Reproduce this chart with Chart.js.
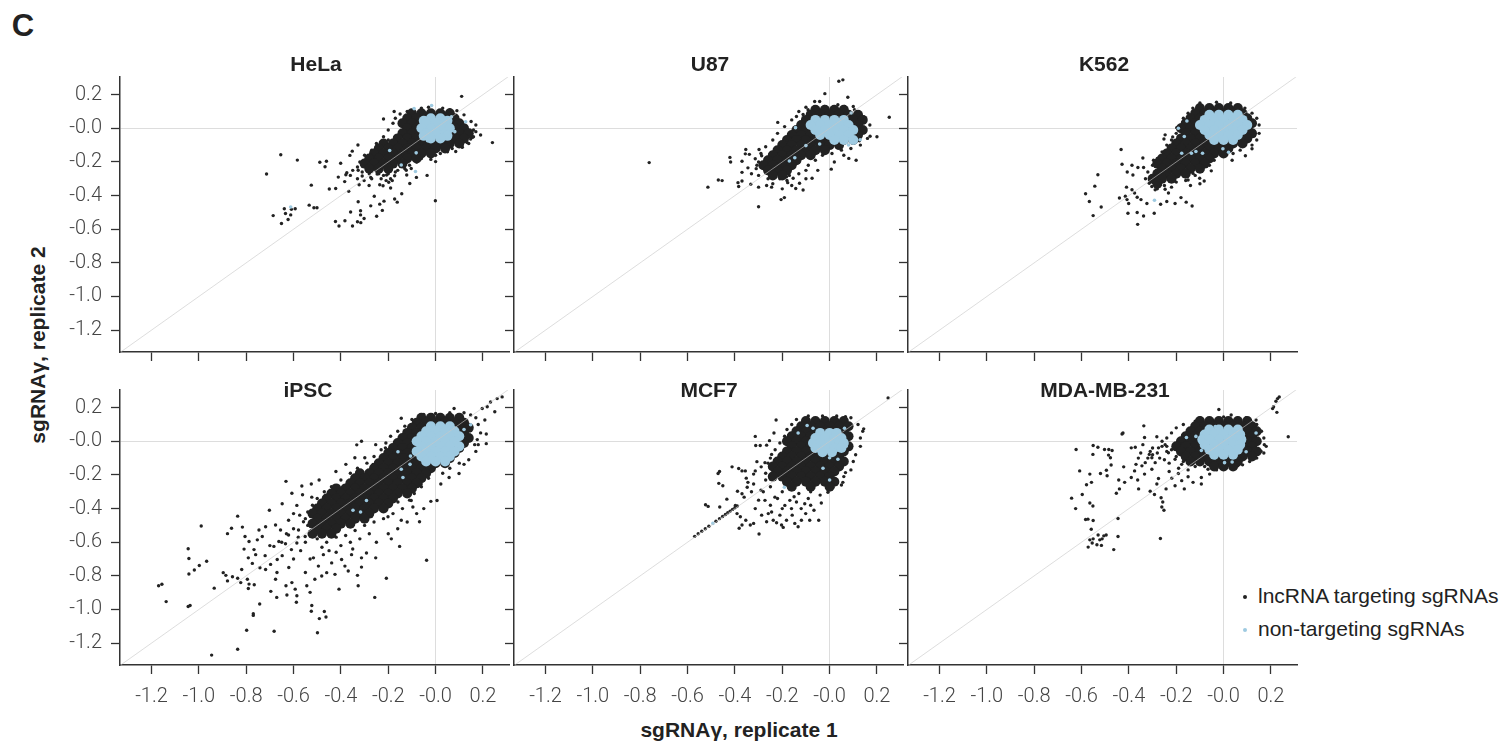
<!DOCTYPE html>
<html lang="en">
<head>
<meta charset="UTF-8">
<title>sgRNA replicate correlation</title>
<script src="https://cdn.jsdelivr.net/npm/chart.js"></script>
<style>
  body { margin: 0; background: #fff; }
  #fig { position: relative; width: 1505px; height: 741px; font-family: "Liberation Sans", Arial, sans-serif; color: #222; overflow: hidden; }
  #fig canvas { position: absolute; }
  .lbl { position: absolute; white-space: nowrap; line-height: 1; transform: translate(-50%, -50%); }
  .bold { font-weight: bold; font-size: 21px; }
  .legend { position: absolute; left: 1243px; font-size: 21px; line-height: 1; white-space: nowrap; color: #222; }
  .legend i { display: inline-block; width: 4px; height: 4px; border-radius: 50%; margin-right: 11px; vertical-align: middle; }
</style>
</head>
<body>
<div id="fig">
  <div class="lbl" style="left:23px;top:25px;font-weight:bold;font-size:31px;">C</div>
  <div class="lbl bold" style="left:739px;top:729px;">sgRNAγ, replicate 1</div>
  <div class="lbl bold" style="left:37px;top:345px;transform:translate(-50%,-50%) rotate(-90deg);">sgRNAγ, replicate 2</div>
  <div class="legend" style="top:585px;"><i style="background:#222"></i>lncRNA targeting sgRNAs</div>
  <div class="legend" style="top:618px;"><i style="background:#9ecae1"></i>non-targeting sgRNAs</div>
</div>

<script>
// shared axis ticks (same for x and y)
const tickValues = [-1.2, -1.0, -0.8, -0.6, -0.4, -0.2, 0, 0.2];
const tickLabels = ['-1.2', '-1.0', '-0.8', '-0.6', '-0.4', '-0.2', '-0.0', '0.2'];
const cellLines = ['HeLa', 'U87', 'K562', 'iPSC', 'MCF7', 'MDA-MB-231'];

// *Lnc: sparse lncRNA-targeting guides, *LncCore: the dense body of the cloud
// *Nt: outlying non-targeting guides, *NtCore: the dense non-targeting cloud

// HeLa
const helaLnc = [[0.11,0.19],[-0.175,0.10],[0.24,-0.085],[0.16,-0.01],[-0.22,0.055],[-0.654,-0.157],[-0.584,-0.189],[-0.714,-0.272],
  [-0.489,-0.202],[-0.467,-0.229],[-0.461,-0.196],[-0.401,-0.208],[-0.525,-0.338],[-0.449,-0.361],[-0.422,-0.358],[-0.411,-0.29],
  [-0.379,-0.276],[-0.375,-0.264],[-0.384,-0.317],[-0.367,-0.375],[-0.328,-0.099],[-0.362,-0.161],[-0.352,-0.136],[-0.686,-0.519],
  [-0.651,-0.566],[-0.639,-0.478],[-0.609,-0.482],[-0.593,-0.478],[-0.634,-0.507],[-0.623,-0.542],[-0.612,-0.515],[-0.534,-0.457],
  [-0.514,-0.472],[-0.501,-0.472],[-0.423,-0.554],[-0.408,-0.581],[-0.383,-0.55],[-0.359,-0.498],[-0.351,-0.581],[-0.33,-0.556],
  [-0.317,-0.49],[-0.317,-0.515],[-0.302,-0.536],[-0.316,-0.561],[-0.327,-0.437],[-0.274,-0.461],[-0.259,-0.404],[-0.236,-0.451],
  [-0.218,-0.433],[-0.249,-0.523],[-0.225,-0.488],[-0.173,-0.42],[-0.162,-0.439],[-0.143,-0.389],[-0.109,-0.328],[-0.081,-0.292],
  [-0.036,-0.28],[-0.001,-0.431],[-0.323,-0.336],[-0.31,-0.284],[-0.327,-0.249],[-0.302,-0.311],[-0.281,-0.34],[-0.274,-0.292],
  [-0.247,-0.272],[-0.236,-0.336],[-0.222,-0.342],[-0.209,-0.311],[-0.198,-0.321],[-0.19,-0.355],[-0.183,-0.311],[-0.207,-0.278],
  [-0.173,-0.282],[0.085,-0.138],[0.113,-0.113],[0.133,-0.084],[0.148,-0.064],[0.155,-0.054],[-0.02,-0.185],[0.0,-0.198],
  [-0.122,-0.278],[-0.103,-0.239],[-0.124,-0.249],[-0.15,-0.187],[-0.134,-0.21],[-0.117,-0.187],
  [-0.12,0.1],[-0.15,0.085],[0.09,0.105],[0.12,0.08],[0.15,0.04],[0.17,-0.02],[0.16,-0.05],[0.14,-0.09],[0.11,-0.11],[0.07,-0.12],
  [0.05,-0.14],[0.02,-0.15],[-0.02,-0.17],[-0.06,-0.18],[-0.08,-0.2],[-0.11,-0.22],[-0.13,-0.24],[-0.17,-0.26],[-0.2,-0.27],
  [-0.24,-0.27],[-0.28,-0.27],[-0.31,-0.26],[-0.33,-0.23],[-0.32,-0.2],[-0.3,-0.16],[-0.27,-0.13],[-0.25,-0.09],[-0.22,-0.05],
  [-0.2,-0.01],[-0.18,0.03],[-0.17,0.06],[-0.06,0.12],[-0.03,0.125],[0.03,0.12],[0.06,0.11],[-0.2,-0.07],[-0.26,-0.19],
  [-0.22,-0.28],[-0.16,-0.25],[-0.12,-0.2],[0.0,-0.16],[0.1,-0.1],[0.19,-0.04],[0.17,0.02],[-0.23,-0.3],[-0.19,-0.3],
  [-0.27,-0.3],[-0.35,-0.25],[-0.36,-0.28],[-0.33,-0.3]];
const helaLncCore = [[-0.10,0.09],[-0.06,0.09],[-0.02,0.09],[0.02,0.09],[0.06,0.09],
  [-0.12,0.06],[-0.08,0.06],[-0.04,0.06],[0,0.06],[0.04,0.06],[0.08,0.06],
  [-0.14,0.03],[-0.10,0.03],[-0.06,0.03],[-0.02,0.03],[0.02,0.03],[0.06,0.03],[0.10,0.03],
  [-0.12,0],[-0.08,0],[-0.04,0],[0,0],[0.04,0],[0.08,0],[0.12,0],
  [-0.14,-0.03],[-0.10,-0.03],[-0.06,-0.03],[-0.02,-0.03],[0.02,-0.03],[0.06,-0.03],[0.10,-0.03],[0.14,-0.03],
  [-0.16,-0.06],[-0.12,-0.06],[-0.08,-0.06],[-0.04,-0.06],[0,-0.06],[0.04,-0.06],[0.08,-0.06],[0.12,-0.06],
  [-0.22,-0.09],[-0.18,-0.09],[-0.14,-0.09],[-0.10,-0.09],[-0.06,-0.09],[-0.02,-0.09],[0.02,-0.09],[0.06,-0.09],[0.10,-0.09],
  [-0.24,-0.12],[-0.20,-0.12],[-0.16,-0.12],[-0.12,-0.12],[-0.08,-0.12],[-0.04,-0.12],[0,-0.12],[0.04,-0.12],
  [-0.26,-0.15],[-0.22,-0.15],[-0.18,-0.15],[-0.14,-0.15],[-0.10,-0.15],[-0.06,-0.15],[-0.02,-0.15],
  [-0.28,-0.18],[-0.24,-0.18],[-0.20,-0.18],[-0.16,-0.18],[-0.12,-0.18],[-0.08,-0.18],
  [-0.30,-0.21],[-0.26,-0.21],[-0.22,-0.21],[-0.18,-0.21],[-0.14,-0.21],
  [-0.28,-0.24],[-0.24,-0.24],[-0.20,-0.24]];
const helaNt = [[-0.091,0.117],[-0.017,0.136],[0.127,0.039],[0.067,0.068],[0.081,-0.02],[-0.082,-0.146],[-0.145,-0.218],
  [-0.085,-0.257],[-0.194,-0.132],[-0.034,-0.074],[-0.612,-0.468]];
const helaNtCore = [[-0.02,0.06],[0.02,0.06],[-0.05,0.045],[0.05,0.045],[-0.04,0.03],[0,0.03],[0.04,0.03],
  [-0.06,0],[-0.02,0],[0.02,0],[0.06,0],[-0.04,-0.03],[0,-0.03],[0.04,-0.03],[-0.05,-0.045],[0.05,-0.045],
  [-0.02,-0.06],[0.02,-0.06]];

// U87
const u87Lnc = [[0.252,0.066],[0.039,0.28],[0.056,0.288],[-0.02,0.206],[0.077,0.185],[-0.063,0.159],[-0.042,0.159],[-0.219,0.035],
  [-0.762,-0.204],[-0.514,-0.35],[-0.47,-0.307],[-0.454,-0.311],[-0.421,-0.173],[-0.418,-0.2],[-0.387,-0.323],[-0.37,-0.313],
  [-0.384,-0.346],[-0.354,-0.126],[-0.356,-0.152],[-0.339,-0.155],[-0.37,-0.196],[-0.345,-0.235],[-0.333,-0.332],[-0.3,-0.35],
  [-0.3,-0.466],[-0.37,-0.262],[-0.205,-0.424],[-0.191,-0.412],[-0.143,-0.358],[-0.112,-0.367],[-0.127,-0.327],[-0.074,-0.297],
  [0.007,-0.243],[0.081,-0.179],[0.112,-0.19],[0.171,-0.047],[0.147,-0.025],[0.144,0.068],[0.126,-0.074],[-0.266,-0.34],
  [-0.245,-0.35],[-0.177,-0.323],[-0.154,-0.297],[-0.182,-0.288],[-0.298,-0.126],[-0.314,-0.181],[-0.307,-0.22],[-0.287,-0.163],
  [-0.112,0.082],[-0.091,0.111],[-0.021,0.13],[0.035,0.14],[0.063,0.13],[0.105,0.111],[0.126,0.091],
  [-0.1,0.125],[0.1,0.13],[-0.14,0.07],[0.15,0.06],[0.17,0.02],[0.16,-0.06],[0.13,-0.1],[0.09,-0.12],[0.05,-0.13],[0.01,-0.15],
  [-0.03,-0.16],[-0.06,-0.19],[-0.09,-0.22],[-0.1,-0.25],[-0.13,-0.27],[-0.17,-0.28],[-0.21,-0.3],[-0.26,-0.3],[-0.3,-0.28],
  [-0.31,-0.24],[-0.3,-0.2],[-0.29,-0.15],[-0.27,-0.11],[-0.24,-0.07],[-0.22,-0.03],[-0.19,0.01],[-0.16,0.05],[-0.13,0.1],
  [-0.33,-0.27],[-0.24,-0.33],[-0.18,-0.31],[-0.1,-0.3],[-0.05,-0.25],[0.02,-0.2],[0.06,-0.16],[0.2,-0.05],[-0.2,-0.36],[-0.16,-0.34]];
const u87LncCore = [[-0.06,0.11],[-0.02,0.11],[0.02,0.11],[0.06,0.11],
  [-0.08,0.08],[-0.04,0.08],[0,0.08],[0.04,0.08],[0.08,0.08],[0.12,0.08],
  [-0.10,0.05],[-0.06,0.05],[-0.02,0.05],[0.02,0.05],[0.06,0.05],[0.10,0.05],[0.14,0.05],
  [-0.12,0.02],[-0.08,0.02],[-0.04,0.02],[0,0.02],[0.04,0.02],[0.08,0.02],[0.12,0.02],
  [-0.14,-0.01],[-0.10,-0.01],[-0.06,-0.01],[-0.02,-0.01],[0.02,-0.01],[0.06,-0.01],[0.10,-0.01],[0.14,-0.01],
  [-0.16,-0.04],[-0.12,-0.04],[-0.08,-0.04],[-0.04,-0.04],[0,-0.04],[0.04,-0.04],[0.08,-0.04],[0.12,-0.04],
  [-0.18,-0.07],[-0.14,-0.07],[-0.10,-0.07],[-0.06,-0.07],[-0.02,-0.07],[0.02,-0.07],[0.06,-0.07],[0.10,-0.07],
  [-0.20,-0.10],[-0.16,-0.10],[-0.12,-0.10],[-0.08,-0.10],[-0.04,-0.10],[0,-0.10],[0.04,-0.10],
  [-0.22,-0.13],[-0.18,-0.13],[-0.14,-0.13],[-0.10,-0.13],[-0.06,-0.13],[-0.02,-0.13],
  [-0.24,-0.16],[-0.20,-0.16],[-0.16,-0.16],[-0.12,-0.16],[-0.08,-0.16],
  [-0.26,-0.19],[-0.22,-0.19],[-0.18,-0.19],[-0.14,-0.19],
  [-0.28,-0.22],[-0.24,-0.22],[-0.20,-0.22],[-0.16,-0.22],
  [-0.26,-0.25],[-0.22,-0.25],[-0.18,-0.25],[-0.24,-0.28],[-0.20,-0.28]];
const u87Nt = [[-0.1,-0.103],[-0.147,-0.175],[-0.17,-0.194],[-0.042,-0.093],[0.129,-0.068],[0.08,-0.099],[0.091,0.091],[-0.144,0.004]];
const u87NtCore = [[-0.06,0.05],[-0.02,0.05],[0.02,0.05],[0.06,0.05],
  [-0.08,0.02],[-0.04,0.02],[0,0.02],[0.04,0.02],[0.08,0.02],
  [-0.06,-0.01],[-0.02,-0.01],[0.02,-0.01],[0.06,-0.01],[0.10,-0.01],
  [-0.04,-0.04],[0,-0.04],[0.04,-0.04],[0.08,-0.04],[0.02,-0.07],[0.06,-0.07],[0.10,-0.07]];

// K562
const k562Lnc = [[-0.433,-0.126],[-0.531,-0.276],[-0.544,-0.344],[-0.583,-0.389],[-0.567,-0.435],[-0.551,-0.519],[-0.517,-0.468],
  [-0.429,-0.214],[-0.407,-0.26],[-0.387,-0.22],[-0.362,-0.233],[-0.383,-0.278],[-0.338,-0.233],[-0.341,-0.177],[-0.296,-0.19],
  [-0.282,-0.249],[-0.41,-0.35],[-0.387,-0.365],[-0.376,-0.385],[-0.408,-0.424],[-0.401,-0.447],[-0.44,-0.414],[-0.415,-0.404],
  [-0.365,-0.41],[-0.349,-0.424],[-0.324,-0.447],[-0.404,-0.505],[-0.365,-0.501],[-0.363,-0.571],[-0.338,-0.521],[-0.293,-0.505],
  [-0.266,-0.452],[-0.24,-0.435],[-0.205,-0.447],[-0.18,-0.412],[-0.158,-0.439],[-0.133,-0.462],[-0.247,-0.039],[-0.252,-0.064],
  [-0.215,-0.051],[-0.198,0.004],[0.12,-0.122],[0.092,-0.163],[0.036,-0.19],[0.13,-0.045],[0.116,0.004],[-0.082,-0.313],
  [-0.052,-0.253],[-0.101,-0.297],[-0.129,-0.268],[-0.15,-0.307],[-0.314,-0.327],[-0.303,-0.346],[-0.289,-0.365],[-0.247,-0.362],
  [-0.233,-0.385],
  [-0.1,0.15],[-0.03,0.155],[0.03,0.15],[0.09,0.12],[0.12,0.09],[0.14,0.06],[0.15,0.02],[0.15,-0.03],[0.14,-0.07],[0.12,-0.1],
  [0.07,-0.13],[0.04,-0.15],[-0.01,-0.16],[-0.04,-0.19],[-0.06,-0.22],[-0.1,-0.25],[-0.12,-0.28],[-0.16,-0.31],[-0.2,-0.32],
  [-0.25,-0.34],[-0.3,-0.32],[-0.33,-0.3],[-0.32,-0.26],[-0.3,-0.22],[-0.28,-0.18],[-0.26,-0.14],[-0.24,-0.1],[-0.22,-0.07],
  [-0.2,-0.03],[-0.18,0.02],[-0.17,0.06],[-0.15,0.09],[-0.13,0.12],[-0.28,-0.36],[-0.22,-0.35],[-0.14,-0.34],[-0.1,-0.33],
  [-0.21,-0.11],[-0.23,-0.13]];
const k562LncCore = [[-0.10,0.12],[-0.06,0.12],[-0.02,0.12],[0.02,0.12],[0.06,0.12],
  [-0.12,0.09],[-0.08,0.09],[-0.04,0.09],[0,0.09],[0.04,0.09],[0.08,0.09],
  [-0.14,0.06],[-0.10,0.06],[-0.06,0.06],[-0.02,0.06],[0.02,0.06],[0.06,0.06],[0.10,0.06],
  [-0.16,0.03],[-0.12,0.03],[-0.08,0.03],[-0.04,0.03],[0,0.03],[0.04,0.03],[0.08,0.03],[0.12,0.03],
  [-0.18,0],[-0.14,0],[-0.10,0],[-0.06,0],[-0.02,0],[0.02,0],[0.06,0],[0.10,0],
  [-0.16,-0.03],[-0.12,-0.03],[-0.08,-0.03],[-0.04,-0.03],[0,-0.03],[0.04,-0.03],[0.08,-0.03],[0.12,-0.03],
  [-0.18,-0.06],[-0.14,-0.06],[-0.10,-0.06],[-0.06,-0.06],[-0.02,-0.06],[0.02,-0.06],[0.06,-0.06],[0.10,-0.06],
  [-0.20,-0.09],[-0.16,-0.09],[-0.12,-0.09],[-0.08,-0.09],[-0.04,-0.09],[0,-0.09],[0.04,-0.09],[0.08,-0.09],
  [-0.22,-0.12],[-0.18,-0.12],[-0.14,-0.12],[-0.10,-0.12],[-0.06,-0.12],[-0.02,-0.12],[0.02,-0.12],
  [-0.24,-0.15],[-0.20,-0.15],[-0.16,-0.15],[-0.12,-0.15],[-0.08,-0.15],[-0.04,-0.15],[0,-0.15],
  [-0.26,-0.18],[-0.22,-0.18],[-0.18,-0.18],[-0.14,-0.18],[-0.10,-0.18],[-0.06,-0.18],
  [-0.28,-0.21],[-0.24,-0.21],[-0.20,-0.21],[-0.16,-0.21],[-0.12,-0.21],[-0.08,-0.21],
  [-0.26,-0.24],[-0.22,-0.24],[-0.18,-0.24],[-0.14,-0.24],[-0.10,-0.24],
  [-0.28,-0.27],[-0.24,-0.27],[-0.20,-0.27],[-0.16,-0.27],[-0.30,-0.30],[-0.26,-0.30],[-0.22,-0.30],[-0.28,-0.33]];
const k562Nt = [[-0.155,0.043],[-0.191,0.0],[-0.166,-0.049],[-0.177,-0.148],[-0.136,-0.148],[-0.117,-0.138],[-0.089,-0.148],
  [-0.003,-0.122],[0.021,-0.142],[-0.292,-0.428]];
const k562NtCore = [[-0.06,0.08],[-0.02,0.08],[0.02,0.08],[0.06,0.08],
  [-0.08,0.05],[-0.04,0.05],[0,0.05],[0.04,0.05],[0.08,0.05],
  [-0.10,0.02],[-0.06,0.02],[-0.02,0.02],[0.02,0.02],[0.06,0.02],[0.10,0.02],
  [-0.08,-0.01],[-0.04,-0.01],[0,-0.01],[0.04,-0.01],[0.08,-0.01],
  [-0.06,-0.04],[-0.02,-0.04],[0.02,-0.04],[0.06,-0.04],[-0.04,-0.07],[0,-0.07],[0.04,-0.07]];

// iPSC
const ipscLnc = [[-1.17,-0.859],[-1.156,-0.85],[-1.138,-0.953],[-1.045,-0.639],[-1.042,-0.697],[-1.042,-0.789],[-1.019,-0.765],
  [-0.998,-0.738],[-0.967,-0.713],[-0.99,-0.504],[-1.045,-0.982],[-1.037,-0.976],[-0.935,-0.873],[-0.946,-1.271],[-0.836,-0.445],
  [-0.862,-0.517],[-0.879,-0.549],[-0.816,-0.51],[-0.897,-0.781],[-0.886,-0.797],[-0.879,-0.83],[-0.858,-0.805],[-0.836,-0.814],
  [-0.823,-0.84],[-0.819,-0.762],[-0.795,-0.82],[-0.788,-0.849],[-0.791,-0.875],[-0.766,-0.853],[-0.77,-1.025],[-0.77,-1.035],
  [-0.743,-0.967],[-0.798,-1.123],[-0.836,-1.236],[-0.682,-1.129],[-0.696,-0.892],[-0.671,-0.928],[-0.628,-0.914],
  [-0.805,-0.566],[-0.788,-0.596],[-0.809,-0.641],[-0.791,-0.693],[-0.76,-0.674],[-0.753,-0.586],[-0.732,-0.566],[-0.718,-0.508],
  [-0.746,-0.527],[-0.767,-0.644],[-0.742,-0.752],[-0.774,-0.726],[-0.718,-0.762],[-0.697,-0.732],[-0.669,-0.703],[-0.648,-0.68],
  [-0.683,-0.625],[-0.662,-0.596],[-0.634,-0.609],[-0.609,-0.644],[-0.586,-0.605],[-0.621,-0.557],[-0.655,-0.527],[-0.676,-0.498],
  [-0.621,-0.469],[-0.6,-0.43],[-0.574,-0.439],[-0.558,-0.478],[-0.579,-0.527],[-0.551,-0.566],
  [-0.632,-0.238],[-0.607,-0.309],[-0.565,-0.266],[-0.562,-0.318],[-0.525,-0.254],[-0.492,-0.23],[-0.421,-0.18],[-0.379,-0.137],
  [-0.333,-0.021],[-0.313,0.0],[-0.253,-0.02],[-0.212,-0.039],[-0.145,0.137],[-0.299,-0.098],[-0.341,-0.098],[-0.648,-0.371],
  [-0.702,-0.41],[-0.586,-0.381],[-0.523,-0.332],
  [-0.676,-0.82],[-0.632,-0.859],[-0.607,-0.84],[-0.593,-0.879],[-0.586,-0.918],[-0.588,-0.957],[-0.544,-0.859],[-0.53,-0.898],
  [-0.523,-0.976],[-0.525,-1.01],[-0.491,-1.054],[-0.47,-1.012],[-0.463,-1.045],[-0.499,-1.138],[-0.481,-0.801],[-0.46,-0.781],
  [-0.439,-0.723],[-0.408,-0.879],[-0.369,-0.771],[-0.33,-0.797],[-0.327,-0.859],[-0.313,-0.748],[-0.292,-0.664],[-0.257,-0.928],
  [-0.208,-0.814],[-0.187,-0.58],[-0.152,-0.625],[-0.253,-0.693],[-0.313,-0.693],[-0.355,-0.674],[-0.383,-0.742],[-0.425,-0.791],
  [-0.495,-0.742],[-0.516,-0.693],[-0.474,-0.674],[-0.397,-0.703],
  [-0.038,-0.707],[-0.02,-0.357],[0.006,-0.352],[-0.068,-0.478],[-0.096,-0.391],[-0.145,-0.469],[-0.117,-0.293],[-0.061,-0.254],
  [0.022,-0.254],[0.057,-0.215],[0.099,-0.191],[0.12,-0.137],[0.176,0.01],[0.214,0.043],[0.214,-0.014],[0.165,-0.02],[0.208,0.127],
  [0.25,0.176],[0.218,0.205],[0.232,0.234],[0.26,0.254],[0.281,0.264],[0.197,0.195],[0.148,0.156],[0.078,0.195],[0.022,0.146],
  [-0.034,0.137],[-0.089,0.098],[-0.215,-0.078],[-0.264,-0.137],[-0.187,-0.215],[-0.166,-0.254],[-0.103,-0.352],[-0.159,-0.361],
  [-0.201,-0.449],
  [-0.54,-0.5],[-0.5,-0.58],[-0.46,-0.6],[-0.42,-0.57],[-0.38,-0.56],[-0.34,-0.53],[-0.3,-0.5],[-0.26,-0.48],[-0.22,-0.46],
  [-0.18,-0.43],[-0.14,-0.4],[-0.11,-0.35],[-0.09,-0.31],[-0.06,-0.27],[-0.03,-0.22],[0.03,-0.19],[0.06,-0.16],[0.1,-0.13],
  [0.14,-0.11],[0.17,-0.06],[0.18,-0.02],[0.19,0.05],[0.18,0.1],[0.17,0.14],[0.12,0.17],[0.06,0.17],[0.0,0.165],[-0.05,0.16],
  [-0.1,0.13],[-0.13,0.09],[-0.16,0.06],[-0.19,0.03],[-0.21,-0.01],[-0.23,-0.05],[-0.26,-0.09],[-0.29,-0.13],[-0.33,-0.16],
  [-0.36,-0.19],[-0.4,-0.23],[-0.44,-0.27],[-0.47,-0.3],[-0.5,-0.34],[-0.52,-0.38],[-0.54,-0.42],[-0.55,-0.46],[-0.4,-0.62],
  [-0.36,-0.6],[-0.32,-0.58],[-0.28,-0.55],[-0.45,-0.65],[-0.42,-0.66],[-0.48,-0.63],[-0.35,-0.64],[-0.55,-0.6],[-0.58,-0.57],
  [-0.6,-0.52],[-0.63,-0.55],[-0.65,-0.6],[-0.57,-0.65],[-0.53,-0.7],[-0.6,-0.7],[-0.62,-0.75],[-0.55,-0.78],[-0.51,-0.82],
  [-0.67,-0.78],[-0.7,-0.62],[-0.72,-0.68],[-0.25,-0.6],[-0.2,-0.55],[-0.16,-0.52],[-0.12,-0.48],[-0.08,-0.43],[-0.05,-0.4]];
const ipscLncCore = [[-0.06,0.14],[-0.02,0.14],[0.02,0.14],[0.06,0.14],[0.10,0.14],
  [-0.08,0.11],[-0.04,0.11],[0,0.11],[0.04,0.11],[0.08,0.11],[0.12,0.11],
  [-0.10,0.08],[-0.06,0.08],[-0.02,0.08],[0.02,0.08],[0.06,0.08],[0.10,0.08],[0.14,0.08],
  [-0.12,0.05],[-0.08,0.05],[-0.04,0.05],[0,0.05],[0.04,0.05],[0.08,0.05],[0.12,0.05],
  [-0.14,0.02],[-0.10,0.02],[-0.06,0.02],[-0.02,0.02],[0.02,0.02],[0.06,0.02],[0.10,0.02],[0.14,0.02],
  [-0.16,-0.01],[-0.12,-0.01],[-0.08,-0.01],[-0.04,-0.01],[0,-0.01],[0.04,-0.01],[0.08,-0.01],[0.12,-0.01],
  [-0.18,-0.04],[-0.14,-0.04],[-0.10,-0.04],[-0.06,-0.04],[-0.02,-0.04],[0.02,-0.04],[0.06,-0.04],[0.10,-0.04],
  [-0.20,-0.07],[-0.16,-0.07],[-0.12,-0.07],[-0.08,-0.07],[-0.04,-0.07],[0,-0.07],[0.04,-0.07],[0.08,-0.07],
  [-0.22,-0.10],[-0.18,-0.10],[-0.14,-0.10],[-0.10,-0.10],[-0.06,-0.10],[-0.02,-0.10],[0.02,-0.10],[0.06,-0.10],
  [-0.24,-0.13],[-0.20,-0.13],[-0.16,-0.13],[-0.12,-0.13],[-0.08,-0.13],[-0.04,-0.13],[0,-0.13],[0.04,-0.13],
  [-0.26,-0.16],[-0.22,-0.16],[-0.18,-0.16],[-0.14,-0.16],[-0.10,-0.16],[-0.06,-0.16],[-0.02,-0.16],
  [-0.32,-0.19],[-0.28,-0.19],[-0.24,-0.19],[-0.20,-0.19],[-0.16,-0.19],[-0.12,-0.19],[-0.08,-0.19],[-0.04,-0.19],
  [-0.34,-0.22],[-0.30,-0.22],[-0.26,-0.22],[-0.22,-0.22],[-0.18,-0.22],[-0.14,-0.22],[-0.10,-0.22],[-0.06,-0.22],
  [-0.36,-0.25],[-0.32,-0.25],[-0.28,-0.25],[-0.24,-0.25],[-0.20,-0.25],[-0.16,-0.25],[-0.12,-0.25],[-0.08,-0.25],
  [-0.42,-0.28],[-0.38,-0.28],[-0.34,-0.28],[-0.30,-0.28],[-0.26,-0.28],[-0.22,-0.28],[-0.18,-0.28],[-0.14,-0.28],[-0.10,-0.28],
  [-0.44,-0.31],[-0.40,-0.31],[-0.36,-0.31],[-0.32,-0.31],[-0.28,-0.31],[-0.24,-0.31],[-0.20,-0.31],[-0.16,-0.31],[-0.12,-0.31],
  [-0.46,-0.34],[-0.42,-0.34],[-0.38,-0.34],[-0.34,-0.34],[-0.30,-0.34],[-0.26,-0.34],[-0.22,-0.34],[-0.18,-0.34],
  [-0.48,-0.37],[-0.44,-0.37],[-0.40,-0.37],[-0.36,-0.37],[-0.32,-0.37],[-0.28,-0.37],[-0.24,-0.37],[-0.20,-0.37],
  [-0.50,-0.40],[-0.46,-0.40],[-0.42,-0.40],[-0.38,-0.40],[-0.34,-0.40],[-0.30,-0.40],[-0.26,-0.40],[-0.22,-0.40],
  [-0.52,-0.43],[-0.48,-0.43],[-0.44,-0.43],[-0.40,-0.43],[-0.36,-0.43],[-0.32,-0.43],[-0.28,-0.43],
  [-0.50,-0.46],[-0.46,-0.46],[-0.42,-0.46],[-0.38,-0.46],[-0.34,-0.46],[-0.30,-0.46],
  [-0.52,-0.49],[-0.48,-0.49],[-0.44,-0.49],[-0.40,-0.49],[-0.36,-0.49],
  [-0.50,-0.52],[-0.46,-0.52],[-0.42,-0.52],[-0.52,-0.55],[-0.48,-0.55],[-0.44,-0.55]];
const ipscNt = [[-0.145,-0.166],[-0.138,-0.215],[-0.108,-0.137],[-0.106,-0.088],[-0.292,-0.352],[-0.349,-0.41],[-0.317,-0.42],
  [-0.159,-0.062],[0.029,-0.084],[0.099,-0.02],[0.148,0.098],[0.12,0.07]];
const ipscNtCore = [[-0.02,0.09],[0.02,0.09],[0.06,0.09],
  [-0.04,0.06],[0,0.06],[0.04,0.06],[0.08,0.06],
  [-0.06,0.03],[-0.02,0.03],[0.02,0.03],[0.06,0.03],[0.10,0.03],
  [-0.08,0],[-0.04,0],[0,0],[0.04,0],[0.08,0],
  [-0.06,-0.03],[-0.02,-0.03],[0.02,-0.03],[0.06,-0.03],[0.10,-0.03],
  [-0.08,-0.06],[-0.04,-0.06],[0,-0.06],[0.04,-0.06],[0.08,-0.06],
  [-0.06,-0.09],[-0.02,-0.09],[0.02,-0.09],[0.06,-0.09],[-0.04,-0.12],[0,-0.12],[0.04,-0.12]];

// MCF7
const mcf7Lnc = [[0.247,0.258],[-0.226,0.127],[0.067,0.146],[0.144,0.074],[-0.314,0.029],[-0.312,-0.025],[-0.293,-0.025],
  [-0.266,-0.023],[-0.254,0.004],[-0.235,0.049],[-0.245,-0.078],[-0.273,-0.127],[-0.307,-0.121],[-0.289,-0.152],[-0.314,-0.176],
  [-0.24,-0.176],[-0.231,-0.205],[-0.465,-0.18],[-0.471,-0.191],[-0.468,-0.25],[-0.451,-0.264],[-0.412,-0.152],[-0.384,-0.162],
  [-0.37,-0.176],[-0.356,-0.176],[-0.352,-0.219],[-0.345,-0.244],[-0.321,-0.195],[-0.321,-0.254],[-0.348,-0.273],[-0.37,-0.312],
  [-0.389,-0.297],[-0.361,-0.332],[-0.434,-0.344],[-0.464,-0.391],[-0.524,-0.377],[-0.513,-0.387],
  [-0.57,-0.565],[-0.555,-0.55],[-0.54,-0.535],[-0.525,-0.52],[-0.51,-0.505],[-0.48,-0.475],[-0.465,-0.46],[-0.452,-0.447],
  [-0.44,-0.435],[-0.43,-0.425],[-0.42,-0.415],[-0.41,-0.405],[-0.4,-0.395],[-0.39,-0.385],
  [-0.398,-0.381],[-0.391,-0.43],[-0.377,-0.449],[-0.37,-0.498],[-0.382,-0.517],[-0.354,-0.469],[-0.335,-0.498],[-0.321,-0.488],
  [-0.314,-0.4],[-0.298,-0.551],[-0.273,-0.351],[-0.259,-0.43],[-0.245,-0.42],[-0.238,-0.469],[-0.224,-0.484],[-0.203,-0.498],
  [-0.196,-0.512],[-0.182,-0.469],[-0.161,-0.4],[-0.158,-0.439],[-0.147,-0.488],[-0.133,-0.508],[-0.119,-0.469],[-0.101,-0.43],
  [-0.084,-0.469],[-0.066,-0.41],[-0.046,-0.469],[-0.035,-0.367],[-0.007,-0.303],[0.014,-0.273],[0.056,-0.244],[0.067,-0.186],
  [-0.231,-0.332],[-0.189,-0.381],[-0.14,-0.361],[-0.105,-0.371],[-0.287,-0.439],[-0.266,-0.478],[-0.21,-0.439],[-0.168,-0.351],
  [-0.14,0.13],[-0.09,0.15],[-0.03,0.15],[0.03,0.15],[0.09,0.14],[0.12,0.1],[0.14,0.06],[0.13,0.02],[0.13,-0.03],[0.11,-0.08],
  [0.1,-0.12],[0.09,-0.17],[0.06,-0.21],[0.05,-0.26],[0.0,-0.28],[-0.08,-0.3],[-0.13,-0.31],[-0.2,-0.3],[-0.25,-0.27],
  [-0.27,-0.23],[-0.27,-0.19],[-0.26,-0.13],[-0.25,-0.1],[-0.23,-0.05],[-0.21,-0.01],[-0.19,0.03],[-0.18,0.07],[-0.16,0.1],
  [-0.28,-0.3],[-0.22,-0.34],[-0.15,-0.33],[-0.09,-0.34],[-0.04,-0.32],[-0.12,-0.4],[-0.08,-0.38],[-0.2,-0.4],[-0.25,-0.38],
  [-0.3,-0.35],[-0.33,-0.3],[-0.29,-0.29]];
const mcf7LncCore = [[-0.10,0.12],[-0.06,0.12],[-0.02,0.12],[0.02,0.12],[0.06,0.12],
  [-0.12,0.09],[-0.08,0.09],[-0.04,0.09],[0,0.09],[0.04,0.09],[0.08,0.09],
  [-0.14,0.06],[-0.10,0.06],[-0.06,0.06],[-0.02,0.06],[0.02,0.06],[0.06,0.06],
  [-0.16,0.03],[-0.12,0.03],[-0.08,0.03],[-0.04,0.03],[0,0.03],[0.04,0.03],[0.08,0.03],
  [-0.18,0],[-0.14,0],[-0.10,0],[-0.06,0],[-0.02,0],[0.02,0],[0.06,0],
  [-0.16,-0.03],[-0.12,-0.03],[-0.08,-0.03],[-0.04,-0.03],[0,-0.03],[0.04,-0.03],[0.08,-0.03],
  [-0.18,-0.06],[-0.14,-0.06],[-0.10,-0.06],[-0.06,-0.06],[-0.02,-0.06],[0.02,-0.06],[0.06,-0.06],
  [-0.20,-0.09],[-0.16,-0.09],[-0.12,-0.09],[-0.08,-0.09],[-0.04,-0.09],[0,-0.09],[0.04,-0.09],
  [-0.22,-0.12],[-0.18,-0.12],[-0.14,-0.12],[-0.10,-0.12],[-0.06,-0.12],[-0.02,-0.12],[0.02,-0.12],[0.06,-0.12],
  [-0.24,-0.15],[-0.20,-0.15],[-0.16,-0.15],[-0.12,-0.15],[-0.08,-0.15],[-0.04,-0.15],[0,-0.15],[0.04,-0.15],
  [-0.22,-0.18],[-0.18,-0.18],[-0.14,-0.18],[-0.10,-0.18],[-0.06,-0.18],[-0.02,-0.18],[0.02,-0.18],
  [-0.24,-0.21],[-0.20,-0.21],[-0.16,-0.21],[-0.12,-0.21],[-0.08,-0.21],[-0.04,-0.21],[0,-0.21],
  [-0.18,-0.24],[-0.14,-0.24],[-0.10,-0.24],[-0.06,-0.24],[-0.02,-0.24],[0.02,-0.24],
  [-0.16,-0.27],[-0.08,-0.27],[0,-0.27]];
const mcf7Nt = [[-0.095,0.094],[-0.07,0.078],[0.063,0.078],[0.07,-0.029],[0.0,-0.098],[-0.028,-0.16],[0.0,-0.23],[-0.191,-0.273],
  [0.035,-0.107],[-0.133,0.049],[-0.493,-0.488]];
const mcf7NtCore = [[-0.04,0.05],[0,0.05],[0.03,0.05],
  [-0.06,0.02],[-0.02,0.02],[0.02,0.02],[0.05,0.02],
  [-0.07,-0.01],[-0.04,-0.01],[0,-0.01],[0.04,-0.01],[0.06,-0.01],
  [-0.06,-0.04],[-0.02,-0.04],[0.02,-0.04],[0.05,-0.04],[-0.03,-0.065],[0.01,-0.065]];

// MDA-MB-231
const mdaLnc = [[0.273,0.027],[0.235,0.264],[0.228,0.254],[0.221,0.238],[0.211,0.205],[0.207,0.195],[0.225,0.172],[-0.02,0.189],
  [-0.048,0.117],[0.095,0.141],[0.137,0.127],[-0.337,0.092],[-0.334,0.023],[-0.425,0.049],[-0.429,0.043],[-0.282,0.027],
  [-0.341,-0.02],[-0.373,-0.035],[-0.39,-0.039],[-0.551,-0.025],[-0.552,-0.078],[-0.531,-0.035],[-0.503,-0.049],[-0.485,-0.049],
  [-0.471,-0.055],[-0.486,-0.082],[-0.478,-0.098],[-0.623,-0.049],[-0.608,-0.176],[-0.642,-0.338],[-0.625,-0.4],[-0.597,-0.316],
  [-0.579,-0.258],[-0.565,-0.195],[-0.558,-0.244],[-0.565,-0.367],[-0.552,-0.385],[-0.583,-0.465],[-0.573,-0.463],[-0.551,-0.471],
  [-0.559,-0.523],[-0.565,-0.586],[-0.551,-0.58],[-0.53,-0.557],[-0.523,-0.586],[-0.506,-0.562],[-0.496,-0.557],[-0.513,-0.58],
  [-0.535,-0.615],[-0.555,-0.605],[-0.572,-0.629],[-0.516,-0.619],[-0.464,-0.644],[-0.446,-0.566],[-0.446,-0.459],[-0.267,-0.578],
  [-0.52,-0.191],[-0.495,-0.172],[-0.475,-0.141],[-0.492,-0.205],[-0.443,-0.23],[-0.44,-0.283],[-0.453,-0.309],[-0.418,-0.244],
  [-0.422,-0.152],[-0.39,-0.215],[-0.376,-0.176],[-0.37,-0.137],[-0.345,-0.146],[-0.363,-0.23],[-0.359,-0.283],[-0.334,-0.195],
  [-0.31,-0.297],[-0.292,-0.316],[-0.282,-0.254],[-0.275,-0.221],[-0.264,-0.336],[-0.257,-0.361],[-0.252,-0.41],[-0.261,-0.391],
  [-0.243,-0.283],[-0.219,-0.219],[-0.205,-0.264],[-0.191,-0.191],[-0.177,-0.234],[-0.166,-0.283],[-0.15,-0.211],[-0.129,-0.244],
  [-0.094,-0.215],[-0.094,-0.254],[-0.059,-0.195],[-0.066,-0.166],[-0.303,-0.166],[-0.289,-0.127],[-0.331,-0.127],[-0.314,-0.078],
  [-0.303,-0.098],[-0.275,-0.039],[-0.247,-0.02],[-0.233,-0.068],[-0.205,-0.107],[-0.177,-0.137],[0.06,-0.146],[0.032,-0.156],
  [-0.003,-0.162],[0.158,-0.059],[0.172,-0.02],[0.144,0.078],[0.116,0.117],[0.06,0.137],[0.032,0.156],
  [-0.3,-0.04],[-0.28,-0.07],[-0.26,-0.03],[-0.24,-0.06],[-0.3,-0.08],[-0.27,-0.1],[-0.25,-0.11],[-0.23,-0.13],[-0.31,-0.06],
  [-0.32,-0.1],[-0.26,0.0],[-0.24,0.02],[-0.22,0.05],[-0.2,0.08],[-0.17,0.1],[-0.12,0.12],[-0.1,0.14],[0.0,0.145],[0.1,0.12],
  [0.14,0.1],[0.16,0.06],[0.17,0.02],[0.18,-0.03],[0.17,-0.07],[0.14,-0.1],[0.11,-0.12],[0.08,-0.14],[-0.03,-0.17],[-0.08,-0.15],
  [-0.12,-0.15],[-0.17,-0.12],[-0.2,-0.09],[-0.22,-0.05],[-0.24,-0.03],[-0.19,-0.16],[-0.15,-0.17],[-0.23,-0.18],[-0.35,-0.07],
  [-0.36,-0.1]];
const mdaLncCore = [[-0.10,0.12],[-0.06,0.12],[-0.02,0.12],[0.02,0.12],[0.06,0.12],[0.10,0.12],
  [-0.12,0.09],[-0.08,0.09],[-0.04,0.09],[0,0.09],[0.04,0.09],[0.08,0.09],[0.12,0.09],
  [-0.14,0.06],[-0.10,0.06],[-0.06,0.06],[-0.02,0.06],[0.02,0.06],[0.06,0.06],[0.10,0.06],[0.14,0.06],
  [-0.16,0.03],[-0.12,0.03],[-0.08,0.03],[-0.04,0.03],[0,0.03],[0.04,0.03],[0.08,0.03],[0.12,0.03],
  [-0.18,0],[-0.14,0],[-0.10,0],[-0.06,0],[-0.02,0],[0.02,0],[0.06,0],[0.10,0],[0.14,0],
  [-0.20,-0.03],[-0.16,-0.03],[-0.12,-0.03],[-0.08,-0.03],[-0.04,-0.03],[0,-0.03],[0.04,-0.03],[0.08,-0.03],[0.12,-0.03],
  [-0.18,-0.06],[-0.14,-0.06],[-0.10,-0.06],[-0.06,-0.06],[-0.02,-0.06],[0.02,-0.06],[0.06,-0.06],[0.10,-0.06],[0.14,-0.06],
  [-0.16,-0.09],[-0.12,-0.09],[-0.08,-0.09],[-0.04,-0.09],[0,-0.09],[0.04,-0.09],[0.08,-0.09],[0.12,-0.09],
  [-0.14,-0.12],[-0.10,-0.12],[-0.06,-0.12],[-0.02,-0.12],[0.02,-0.12],[0.06,-0.12],
  [-0.04,-0.15],[0,-0.15],[0.04,-0.15]];
const mdaNt = [[-0.157,0.023],[-0.117,0.029],[-0.094,-0.055],[-0.035,-0.098],[0.004,-0.127],[0.036,-0.123],[0.095,-0.062],
  [0.137,0.049],[0.043,0.068],[-0.035,0.088]];
const mdaNtCore = [[-0.06,0.07],[-0.02,0.07],[0.02,0.07],[0.06,0.07],
  [-0.08,0.04],[-0.04,0.04],[0,0.04],[0.04,0.04],[0.07,0.04],
  [-0.09,0.01],[-0.06,0.01],[-0.02,0.01],[0.02,0.01],[0.06,0.01],[0.075,0.01],
  [-0.08,-0.02],[-0.04,-0.02],[0,-0.02],[0.04,-0.02],[0.07,-0.02],
  [-0.06,-0.05],[-0.02,-0.05],[0.02,-0.05],[0.06,-0.05],[-0.04,-0.08],[0,-0.08],[0.04,-0.08]];

const lncSets = [helaLnc, u87Lnc, k562Lnc, ipscLnc, mcf7Lnc, mdaLnc];
const lncCoreSets = [helaLncCore, u87LncCore, k562LncCore, ipscLncCore, mcf7LncCore, mdaLncCore];
const ntSets = [helaNt, u87Nt, k562Nt, ipscNt, mcf7Nt, mdaNt];
const ntCoreSets = [helaNtCore, u87NtCore, k562NtCore, ipscNtCore, mcf7NtCore, mdaNtCore];

// panel geometry
const colLeft = [120, 514, 908];
const rowTop = [72, 385];
const plotW = 392, plotH = 280;
const xRange = [-1.333, 0.31];
const yRange = [-1.33, 0.305];
const titlePos = [[316, 62.5], [710, 62.5], [1104, 62.5], [308, 388.5], [709, 388.5], [1105, 388.5]];

const BLACK = '#222222';
const BLUE = '#9ecae1';
const GUIDE = 'rgba(200,200,200,0.62)';   // zero lines and identity line, drawn over the points
const fig = document.getElementById('fig');

function axis(range, isX, showLabels, size) {
  return {
    type: 'linear',
    min: range[0],
    max: range[1],
    z: 1,
    afterBuildTicks: s => { s.ticks = tickValues.map(v => ({ value: v })); },
    afterFit: s => {
      if (isX) { s.height = size; s.paddingLeft = 0; s.paddingRight = 0; }
      else { s.width = size; s.paddingTop = 0; s.paddingBottom = 0; }
    },
    grid: {
      color: ctx => (ctx.tick && ctx.tick.value === 0) ? GUIDE : 'rgba(0,0,0,0)',
      lineWidth: 1,
      drawTicks: true,
      tickLength: 9,
      tickColor: '#333',
      tickWidth: 1.3
    },
    border: { display: true, color: '#333', width: 1.5 },
    ticks: {
      display: showLabels,
      autoSkip: false,
      maxRotation: 0,
      padding: isX ? 11 : 9,
      color: '#444',
      font: { family: 'Roboto', size: 20, weight: '300' },
      callback: (v, i) => tickLabels[i]
    }
  };
}

cellLines.forEach((name, i) => {
  const col = i % 3, row = Math.floor(i / 3);
  const yW = col === 0 ? 80 : 10;
  const xH = row === 1 ? 52 : 12;
  const canvas = document.createElement('canvas');
  canvas.width = yW + plotW + 2;
  canvas.height = plotH + xH;
  canvas.style.left = (colLeft[col] - yW) + 'px';
  canvas.style.top = rowTop[row] + 'px';
  fig.appendChild(canvas);

  const t = document.createElement('div');
  t.className = 'lbl bold';
  t.style.left = titlePos[i][0] + 'px';
  t.style.top = titlePos[i][1] + 'px';
  t.textContent = name;
  fig.appendChild(t);

  new Chart(canvas, {
    type: 'scatter',
    data: {
      datasets: [
        { label: 'identity', data: [[-1.4, -1.4], [0.4, 0.4]], showLine: true, borderColor: GUIDE, borderWidth: 1, pointRadius: 0, order: -1 },
        { label: 'non-targeting sgRNAs', data: ntCoreSets[i], backgroundColor: BLUE, pointRadius: 5, borderWidth: 0, order: 0 },
        { label: 'non-targeting sgRNAs', data: ntSets[i], backgroundColor: BLUE, pointRadius: 1.8, borderWidth: 0, order: 1 },
        { label: 'lncRNA targeting sgRNAs', data: lncCoreSets[i], backgroundColor: BLACK, pointRadius: 5, borderWidth: 0, order: 2 },
        { label: 'lncRNA targeting sgRNAs', data: lncSets[i], backgroundColor: BLACK, pointRadius: 1.7, borderWidth: 0, order: 3 }
      ]
    },
    options: {
      responsive: false,
      animation: false,
      events: [],
      layout: { padding: { top: 0, right: 2, bottom: 0, left: 0 } },
      plugins: { legend: { display: false }, tooltip: { enabled: false } },
      scales: {
        x: axis(xRange, true, row === 1, xH),
        y: axis(yRange, false, col === 0, yW)
      }
    }
  });
});
</script>
</body>
</html>
